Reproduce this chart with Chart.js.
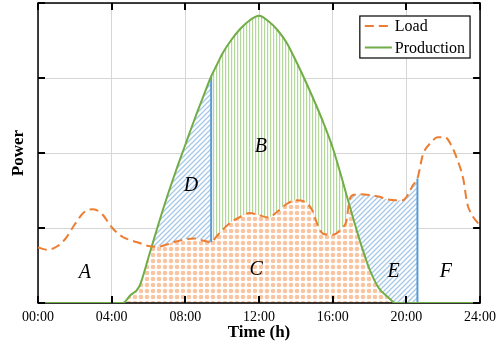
<!DOCTYPE html>
<html>
<head>
<meta charset="utf-8">
<script src="https://cdn.jsdelivr.net/npm/chart.js@4.4.1/dist/chart.umd.min.js"></script>
<style>
  html, body { margin: 0; padding: 0; background: #fff; }
</style>
</head>
<body>
<canvas id="myChart" width="502" height="349"></canvas>
<script>
// time of day (h), load and PV production
const hours = [0, 0.5, 1, 1.5, 2, 2.5, 3, 3.5, 4, 4.6, 5, 5.5, 6, 6.5, 7, 7.5, 8, 8.5, 9,
  9.4, 9.7, 10, 10.5, 11, 11.5, 12, 12.5, 13, 13.5, 14, 14.5, 14.9, 15.2, 15.5, 16, 16.5,
  16.75, 16.9, 17.1, 17.5, 18, 18.5, 19, 19.4, 19.8, 20.1, 20.35, 20.6, 20.9, 21.3, 21.7,
  22.1, 22.4, 22.8, 23.1, 23.3, 23.5, 24];
const load = [0.74, 0.71, 0.75, 0.86, 1.05, 1.21, 1.25, 1.18, 1.01, 0.88, 0.84, 0.8, 0.76, 0.75, 0.78, 0.82, 0.85, 0.86, 0.83,
  0.81, 0.89, 0.97, 1.08, 1.15, 1.2, 1.17, 1.14, 1.22, 1.32, 1.37, 1.35, 1.23, 1.03, 0.92, 0.91, 1.0,
  1.1, 1.36, 1.44, 1.45, 1.44, 1.42, 1.38, 1.37, 1.37, 1.45, 1.57, 1.66, 1.98, 2.13, 2.21,
  2.21, 2.12, 1.89, 1.64, 1.33, 1.2, 1.03];
const production = [0, 0, 0, 0, 0, 0, 0, 0, 0, 0, 0.1, 0.22, 0.61, 1.02, 1.41, 1.77, 2.11, 2.45, 2.77,
  3.02, 3.17, 3.32, 3.51, 3.66, 3.77, 3.83, 3.76, 3.64, 3.47, 3.23, 2.97, 2.75, 2.58, 2.4, 2.07, 1.66,
  1.44, 1.31, 1.14, 0.81, 0.45, 0.2, 0.08, 0, 0, 0, 0, 0, 0, 0, 0,
  0, 0, 0, 0, 0, 0, 0];
const timeLabels = ['00:00', '04:00', '08:00', '12:00', '16:00', '20:00', '24:00'];

// area letters and where they sit (hour, power)
const regionNames = ['A', 'B', 'C', 'D', 'E', 'F'];
const regionHours = [2.55, 12.1, 11.85, 8.3, 19.3, 22.15];
const regionLevels = [0.4, 2.08, 0.44, 1.56, 0.42, 0.42];

const splitD = 9.4;   // D | B boundary
const splitE = 20.6;  // right edge of E

const points = (values, from, to) => hours
    .map((h, i) => ({ x: h, y: values[i] }))
    .filter(p => p.x >= from && p.x <= to);
const at = (values, h) => values[hours.indexOf(h)];

const makePattern = (size, draw) => {
    const c = document.createElement('canvas');
    c.width = size;
    c.height = size;
    const g = c.getContext('2d');
    g.fillStyle = '#fff';
    g.fillRect(0, 0, size, size);
    draw(g, size);
    return g.createPattern(c, 'repeat');
};

const dots = makePattern(6, g => {
    g.fillStyle = '#f8c4a2';
    g.beginPath();
    g.arc(3, 3, 2.3, 0, Math.PI * 2);
    g.fill();
});
const stripes = makePattern(3, g => {
    g.fillStyle = '#b4d79c';
    g.fillRect(0, 0, 1.2, 3);
});
const hatch = makePattern(5, (g, s) => {
    g.strokeStyle = '#a6c8e8';
    g.lineWidth = 1.3;
    g.beginPath();
    g.moveTo(-1, s + 1); g.lineTo(s + 1, -1);
    g.moveTo(-1, 1); g.lineTo(1, -1);
    g.moveTo(s - 1, s + 1); g.lineTo(s + 1, s - 1);
    g.stroke();
});

Chart.defaults.font.family = "'Liberation Serif', 'Times New Roman', serif";
Chart.defaults.color = '#000';

const line = { pointRadius: 0, pointHoverRadius: 0, cubicInterpolationMode: 'monotone', fill: false };
const helper = { ...line, borderWidth: 1, borderColor: 'transparent' };

const framePlugin = {
    id: 'frame',
    beforeDatasetsDraw(chart) {
        const { ctx, chartArea: a } = chart;
        ctx.save();
        ctx.strokeStyle = '#000';
        ctx.lineWidth = 1.5;
        ctx.strokeRect(a.left, a.top, a.width, a.height);
        ctx.restore();
    },
    afterDatasetsDraw(chart) {
        const { ctx, chartArea: a, scales } = chart;
        ctx.save();
        // inward tick marks on all four sides
        ctx.strokeStyle = '#000';
        ctx.lineWidth = 2;
        ctx.beginPath();
        scales.x.ticks.forEach(t => {
            const x = Math.round(scales.x.getPixelForValue(t.value));
            ctx.moveTo(x, a.bottom); ctx.lineTo(x, a.bottom - 7);
            ctx.moveTo(x, a.top); ctx.lineTo(x, a.top + 7);
        });
        scales.y.ticks.forEach(t => {
            const y = Math.round(scales.y.getPixelForValue(t.value));
            ctx.moveTo(a.left, y); ctx.lineTo(a.left + 7, y);
            ctx.moveTo(a.right, y); ctx.lineTo(a.right - 7, y);
        });
        ctx.stroke();

        // region letters
        ctx.font = "italic 20px 'Liberation Serif', serif";
        ctx.fillStyle = '#000';
        ctx.textAlign = 'center';
        ctx.textBaseline = 'middle';
        regionNames.forEach((name, i) => {
            ctx.fillText(name, scales.x.getPixelForValue(regionHours[i]), scales.y.getPixelForValue(regionLevels[i]));
        });

        // legend box inside the plot
        const items = chart.data.datasets.slice(0, 2);
        ctx.font = "16px 'Liberation Serif', serif";
        const textW = Math.max(...items.map(d => ctx.measureText(d.label).width));
        const w = 36 + textW + 4, h = 42;
        const left = a.right - 10 - w, top = a.top + 13;
        ctx.fillStyle = '#fff';
        ctx.fillRect(left, top, w, h);
        ctx.lineWidth = 1.2;
        ctx.strokeStyle = '#000';
        ctx.strokeRect(left, top, w, h);
        items.forEach((d, i) => {
            const y = top + 10 + i * 21.5;
            ctx.strokeStyle = d.borderColor;
            ctx.lineWidth = 2;
            ctx.setLineDash(d.borderDash || []);
            ctx.beginPath();
            ctx.moveTo(left + 5, y);
            ctx.lineTo(left + 32, y);
            ctx.stroke();
            ctx.setLineDash([]);
            ctx.fillStyle = '#000';
            ctx.textAlign = 'left';
            ctx.fillText(d.label, left + 35, y + 1);
        });
        ctx.restore();
    }
};

new Chart(document.getElementById('myChart'), {
    type: 'line',
    data: {
        datasets: [
            { ...line, label: 'Load', data: points(load, 0, 24), borderColor: '#ed7d31', borderWidth: 2, borderDash: [9, 5], order: 0 },
            { ...line, label: 'Production', data: points(production, 0, 24), borderColor: '#70ad47', borderWidth: 2, order: 1 },
            { ...line, label: 'edgeD', cubicInterpolationMode: 'default', tension: 0, borderColor: '#5b9bd5', borderWidth: 2, order: 2,
              data: [{ x: splitD, y: at(load, splitD) }, { x: splitD, y: at(production, splitD) }] },
            { ...line, label: 'edgeE', cubicInterpolationMode: 'default', tension: 0, borderColor: '#5b9bd5', borderWidth: 2, order: 2,
              data: [{ x: splitE, y: 0 }, { x: splitE, y: at(load, splitE) }] },
            // D: production above load, left of splitD
            { ...helper, label: 'D', data: points(production, 4.6, splitD), order: 5,
              fill: { target: 5, above: hatch, below: 'transparent' } },
            { ...helper, label: 'D base', data: points(load, 4.6, splitD), order: 5 },
            // B: production above load, right of splitD
            { ...helper, label: 'B', data: points(production, splitD, 17.5), order: 5,
              fill: { target: 7, above: stripes, below: 'transparent' } },
            { ...helper, label: 'B base', data: points(load, splitD, 17.5), order: 5 },
            // E: load above production, up to splitE
            { ...helper, label: 'E', data: points(load, 16.5, splitE), order: 5,
              fill: { target: 9, above: hatch, below: 'transparent' } },
            { ...helper, label: 'E base', data: points(production, 16.5, splitE), order: 5 },
            // C: everything under production
            { ...helper, label: 'C', data: points(production, 0, 24), order: 10,
              fill: 'origin', backgroundColor: dots }
        ]
    },
    options: {
        responsive: false,
        animation: false,
        events: [],
        layout: { padding: { top: 3, right: 20, left: 0, bottom: 0 } },
        plugins: {
            legend: { display: false },
            tooltip: { enabled: false },
            filler: { drawTime: 'beforeDatasetsDraw' }
        },
        scales: {
            x: {
                type: 'linear',
                min: 0,
                max: 24,
                afterFit: s => { s.height = 46; },
                ticks: {
                    stepSize: 4,
                    padding: 6,
                    color: '#000',
                    font: { size: 14 },
                    callback: v => timeLabels[v / 4]
                },
                grid: { color: '#d6d6d6', drawTicks: false },
                border: { display: false },
                title: {
                    display: true,
                    text: 'Time (h)',
                    color: '#000',
                    font: { size: 17, weight: 'bold' },
                    padding: { top: 0, bottom: 6 }
                }
            },
            y: {
                min: 0,
                max: 4,
                afterFit: s => { s.width = 38; },
                ticks: { display: false, stepSize: 1 },
                grid: { color: '#d6d6d6', drawTicks: false },
                border: { display: false },
                title: {
                    display: true,
                    text: 'Power',
                    color: '#000',
                    font: { size: 17, weight: 'bold' },
                    padding: { top: 8, bottom: 0 }
                }
            }
        }
    },
    plugins: [framePlugin]
});
</script>
</body>
</html>
